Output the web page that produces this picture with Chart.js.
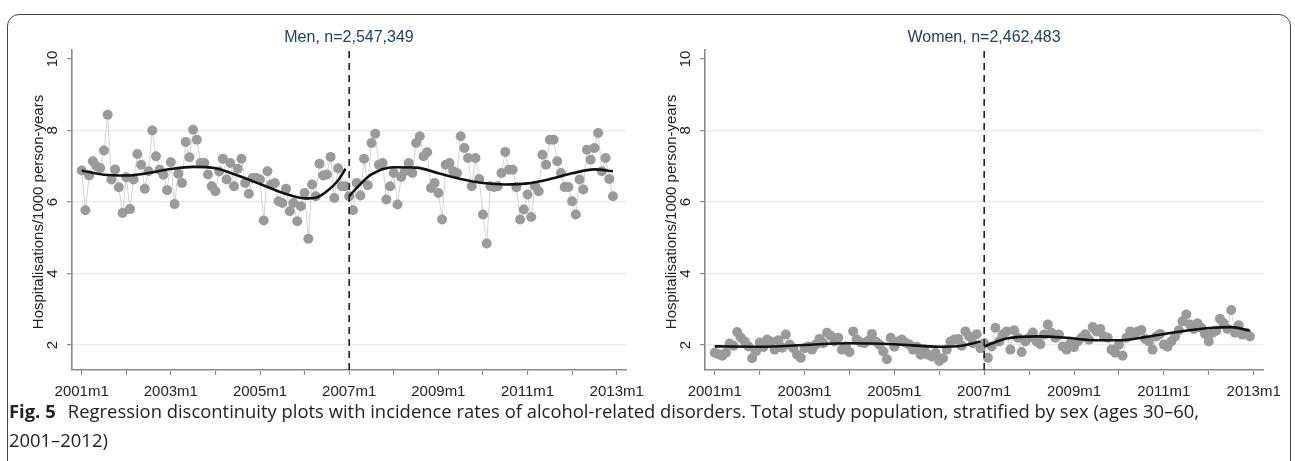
<!DOCTYPE html>
<html>
<head>
<meta charset="utf-8">
<script src="https://cdn.jsdelivr.net/npm/chart.js@4.4.1/dist/chart.umd.min.js"></script>
<style>
  body { margin: 0; background: #fff; width: 1295px; height: 461px; overflow: hidden; position: relative; }
  #frame { position: absolute; left: 7px; top: 14px; width: 1282px; height: 520px; border: 1px solid #444; border-radius: 12px; }
  canvas { position: absolute; top: 0; }
  #men { left: 0; }
  #women { left: 645px; }
  #caption { position: absolute; left: 9px; top: 397px; font-family: "Open Sans", Lato, sans-serif; font-size: 17.5px; line-height: 29px; color: #222; white-space: nowrap; transform-origin: 0 0; }
  #caption b { font-weight: 700; margin-right: 7px; }
</style>
</head>
<body>
<div id="frame"></div>
<canvas id="men" width="645" height="400"></canvas>
<canvas id="women" width="645" height="400"></canvas>
<div id="caption"><span id="line1"><b>Fig. 5</b> Regression discontinuity plots with incidence rates of alcohol-related disorders. Total study population, stratified by sex (ages 30–60,</span><br>2001–2012)</div>
<script>
// months since 2001m1
let tickMonths = [0, 12, 24, 36, 48, 60, 72, 84, 96, 108, 120, 132, 144];
let tickLabels = ["2001m1", "", "2003m1", "", "2005m1", "", "2007m1", "", "2009m1", "", "2011m1", "", "2013m1"];
let yTicks = [2, 4, 6, 8, 10];
let cutoff = 72;
let yTitle = "Hospitalisations/1000 person-years";

// monthly rates 2001m1 .. 2012m12
let menRates = [
  6.88, 5.77, 6.74, 7.14, 7.00, 6.95, 7.44, 8.44, 6.63, 6.91, 6.41, 5.69,
  6.69, 5.80, 6.63, 7.34, 7.04, 6.37, 6.86, 8.00, 7.28, 6.90, 6.76, 6.33,
  7.11, 5.94, 6.79, 6.53, 7.68, 7.25, 8.02, 7.74, 7.09, 7.09, 6.77, 6.44,
  6.30, 6.85, 7.21, 6.63, 7.09, 6.44, 6.93, 7.21, 6.53, 6.23, 6.67, 6.67,
  6.63, 5.48, 6.86, 6.49, 6.53, 6.02, 5.97, 6.37, 5.74, 5.97, 5.46, 5.88,
  6.25, 4.97, 6.49, 6.16, 7.07, 6.74, 6.77, 7.26, 6.11, 6.94, 6.44, 6.44,
  6.16, 5.77, 6.53, 6.18, 7.21, 6.47, 7.65, 7.91, 7.04, 7.09, 6.07, 6.44,
  6.81, 5.93, 6.70, 6.86, 7.09, 6.81, 7.65, 7.84, 7.28, 7.39, 6.39, 6.53,
  6.25, 5.51, 7.04, 7.09, 6.86, 6.81, 7.84, 7.51, 7.23, 6.44, 7.23, 6.64,
  5.65, 4.84, 6.44, 6.42, 6.44, 6.81, 7.40, 6.90, 6.90, 6.41, 5.51, 5.79,
  6.21, 5.58, 6.44, 6.30, 7.32, 7.04, 7.74, 7.74, 7.14, 6.81, 6.42, 6.42,
  6.02, 5.65, 6.63, 6.35, 7.46, 7.18, 7.51, 7.93, 6.86, 7.23, 6.64, 6.16
];
let womenRates = [
  1.78, 1.74, 1.70, 1.78, 2.04, 1.98, 2.36, 2.20, 2.10, 1.96, 1.63, 1.82,
  2.07, 1.94, 2.15, 2.10, 1.87, 2.13, 1.92, 2.29, 2.01, 1.91, 1.73, 1.64,
  1.91, 1.96, 1.87, 2.01, 2.17, 2.05, 2.34, 2.26, 2.10, 2.20, 1.87, 1.96,
  1.80, 2.38, 2.15, 2.07, 2.05, 2.12, 2.31, 2.10, 2.01, 1.82, 1.60, 2.20,
  1.95, 2.10, 2.15, 2.06, 2.01, 1.87, 1.95, 1.73, 1.87, 1.73, 1.68, 1.78,
  1.55, 1.63, 1.87, 2.10, 2.15, 2.17, 1.98, 2.38, 2.24, 2.05, 2.30, 1.91,
  2.05, 1.64, 1.96, 2.48, 2.10, 2.29, 2.38, 1.87, 2.41, 2.20, 1.80, 2.10,
  2.20, 2.35, 2.10, 2.02, 2.29, 2.57, 2.34, 2.20, 2.29, 1.96, 1.87, 2.05,
  1.94, 2.10, 2.20, 2.30, 2.15, 2.50, 2.38, 2.45, 2.24, 2.20, 1.87, 1.78,
  2.01, 1.70, 2.20, 2.38, 2.29, 2.38, 2.42, 2.17, 2.10, 1.87, 2.24, 2.31,
  2.01, 1.95, 2.10, 2.24, 2.41, 2.66, 2.85, 2.57, 2.45, 2.61, 2.48, 2.31,
  2.10, 2.34, 2.40, 2.73, 2.61, 2.45, 2.98, 2.34, 2.55, 2.29, 2.34, 2.24
];

// fitted curves, read at a few months either side of the cutoff
let menFitPreX = [0, 6, 12, 18, 24, 30, 36, 42, 48, 54, 60, 63, 66, 69, 71];
let menFitPreY = [6.88, 6.76, 6.74, 6.81, 6.92, 6.98, 6.94, 6.74, 6.50, 6.26, 6.10, 6.12, 6.30, 6.60, 6.93];
let menFitPostX = [72, 75, 78, 84, 90, 96, 102, 108, 114, 120, 126, 132, 138, 143];
let menFitPostY = [6.16, 6.50, 6.77, 6.97, 6.96, 6.80, 6.64, 6.53, 6.49, 6.52, 6.64, 6.80, 6.91, 6.86];
let womenFitPreX = [0, 12, 24, 36, 48, 60, 66, 71];
let womenFitPreY = [1.96, 1.95, 2.00, 2.05, 2.02, 1.95, 1.98, 2.10];
let womenFitPostX = [72, 78, 86, 94, 100, 108, 115, 124, 133, 138, 143];
let womenFitPostY = [1.96, 2.18, 2.24, 2.20, 2.14, 2.13, 2.22, 2.37, 2.48, 2.50, 2.40];

let xMin = -2.6, xMax = 146.5, yMin = 1.3, yMax = 10.25;

function pts(xs, ys) {
  return xs.map((x, i) => ({ x: x, y: ys[i] }));
}

// stata-like rotated y labels and panel title
let stataText = {
  id: "stataText",
  afterDraw(chart, args, opts) {
    let ctx = chart.ctx, a = chart.chartArea, y = chart.scales.y;
    ctx.save();
    ctx.fillStyle = "#222";
    ctx.textAlign = "center";
    ctx.textBaseline = "middle";
    ctx.font = '15px "Liberation Sans", Arial, sans-serif';
    yTicks.forEach(v => {
      ctx.save();
      ctx.translate(a.left - 19, y.getPixelForValue(v));
      ctx.rotate(-Math.PI / 2);
      ctx.fillText(String(v), 0, 0);
      ctx.restore();
    });
    ctx.save();
    ctx.translate(a.left - 33, (a.top + a.bottom) / 2 + 2);
    ctx.rotate(-Math.PI / 2);
    ctx.fillText(yTitle, 0, 0);
    ctx.restore();
    ctx.fillStyle = "#23405f";
    ctx.font = '16px "Liberation Sans", Arial, sans-serif';
    ctx.fillText(opts.title, (a.left + a.right) / 2, 38);
    ctx.restore();
  }
};

function makeChart(id, title, rates, preX, preY, postX, postY, padLeft, padRight) {
  let ctx = document.getElementById(id).getContext("2d");
  return new Chart(ctx, {
    type: "scatter",
    data: {
      datasets: [
        {
          data: [{ x: cutoff, y: yMin }, { x: cutoff, y: yMax }],
          showLine: true,
          borderColor: "#222",
          borderWidth: 1.6,
          borderDash: [7, 5],
          pointRadius: 0
        },
        {
          data: pts(preX, preY),
          showLine: true,
          borderColor: "#111",
          borderWidth: 2.6,
          cubicInterpolationMode: "monotone",
          pointRadius: 0
        },
        {
          data: pts(postX, postY),
          showLine: true,
          borderColor: "#111",
          borderWidth: 2.6,
          cubicInterpolationMode: "monotone",
          pointRadius: 0
        },
        {
          data: rates.map((v, i) => ({ x: i, y: v })),
          showLine: true,
          borderColor: "#d2d2d2",
          borderWidth: 1,
          pointRadius: 5,
          pointBackgroundColor: "#9a9a9a",
          pointBorderWidth: 0
        }
      ]
    },
    options: {
      responsive: false,
      animation: false,
      layout: { padding: { left: padLeft, right: padRight, top: 50, bottom: 0 } },
      plugins: {
        legend: { display: false },
        tooltip: { enabled: false },
        stataText: { title: title }
      },
      scales: {
        x: {
          type: "linear",
          min: xMin,
          max: xMax,
          afterBuildTicks: s => { s.ticks = tickMonths.map(v => ({ value: v })); },
          afterFit: s => { s.height = 30; s.paddingLeft = 0; s.paddingRight = 0; },
          ticks: {
            autoSkip: false,
            maxRotation: 0,
            padding: 8,
            color: "#222",
            font: { family: '"Liberation Sans", Arial, sans-serif', size: 15 },
            callback: (v, i) => tickLabels[i]
          },
          grid: { drawOnChartArea: false, tickLength: 5, tickColor: "#8a8a8a", tickWidth: 1.2 },
          border: { display: true, color: "#8a8a8a", width: 1.6 }
        },
        y: {
          min: yMin,
          max: yMax,
          afterBuildTicks: s => { s.ticks = yTicks.map(v => ({ value: v })); },
          afterFit: s => { s.width = 0; s.paddingTop = 0; s.paddingBottom = 0; },
          ticks: { display: false },
          grid: {
            color: c => (c.tick && c.tick.value === 10 ? "rgba(0,0,0,0)" : "#e2ecec"),
            lineWidth: 1.2,
            tickLength: 5,
            tickColor: "#8a8a8a",
            tickWidth: 1.2
          },
          border: { display: true, color: "#8a8a8a", width: 1.6 }
        }
      }
    },
    plugins: [stataText]
  });
}

window.onload = function() {
  // the printed caption uses a condensed face: squeeze the line to the same width
  let cap = document.getElementById("caption");
  let w = document.getElementById("line1").getBoundingClientRect().width;
  cap.style.transform = "scaleX(" + (1190 / w).toFixed(4) + ")";

  makeChart("men", "Men, n=2,547,349", menRates, menFitPreX, menFitPreY, menFitPostX, menFitPostY, 72, 19);
  makeChart("women", "Women, n=2,462,483", womenRates, womenFitPreX, womenFitPreY, womenFitPostX, womenFitPostY, 60, 27);
};
</script>
</body>
</html>
